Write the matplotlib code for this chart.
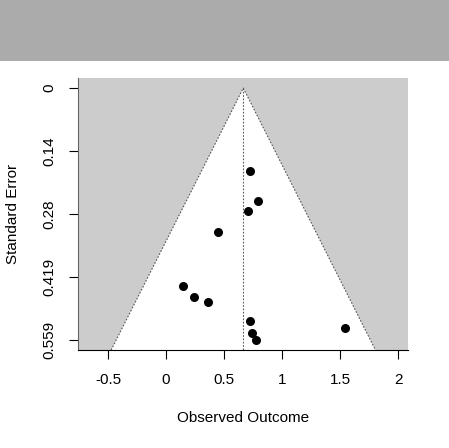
import matplotlib
matplotlib.use("Agg")
import matplotlib.pyplot as plt
import numpy as np
from matplotlib.patches import Rectangle

plt.rcParams['font.family'] = ['Liberation Sans', 'DejaVu Sans']

# observed outcomes and their standard errors
yi = [0.724, 0.793, 0.710, 0.451, 0.149, 0.244, 0.365, 0.724, 0.744, 0.779, 1.546]
sei = [0.185, 0.250, 0.273, 0.319, 0.439, 0.463, 0.475, 0.518, 0.543, 0.559, 0.532]
b_est = 0.666

x_ticks = [-0.5, 0, 0.5, 1, 1.5, 2]
x_labels = ['-0.5', '0', '0.5', '1', '1.5', '2']
y_labels = ['0', '0.14', '0.28', '0.419', '0.559']

W, H = 449, 448
fig = plt.figure(figsize=(W / 100, H / 100), dpi=100)

# grey band on top
fig.patches.append(Rectangle((0, 1 - 61 / H), 1, 61 / H, transform=fig.transFigure,
                             facecolor='#ababab', edgecolor='none', zorder=0))

ax = fig.add_axes([78 / W, (H - 350) / H, 330 / W, 272 / H])
ax.set_facecolor('#cccccc')

max_se = 0.5589
y_ticks = np.linspace(0, max_se, 5)
ext = max_se * 0.04
ax.set_ylim(max_se + ext, -ext)
ax.set_xlim(-0.759, 2.086)

# funnel region
se_bot = max_se + ext
ax.fill([b_est - 1.96 * se_bot, b_est, b_est + 1.96 * se_bot],
        [se_bot, 0, se_bot], facecolor='white', edgecolor='none', zorder=1)
ax.plot([b_est - 1.96 * se_bot, b_est, b_est + 1.96 * se_bot],
        [se_bot, 0, se_bot], color='#555555', linestyle=(0, (1.5, 1.5)), lw=0.8, zorder=2)
ax.plot([b_est, b_est], [0, se_bot], color='#555555', linestyle=(0, (1.5, 1.5)), lw=0.8, zorder=2)

ax.scatter(yi, sei, s=30, color='black', zorder=3, clip_on=False)

for s in ['top', 'right']:
    ax.spines[s].set_visible(False)
ax.spines['left'].set_color('#666666')
ax.spines['bottom'].set_color('black')

ax.set_xticks(x_ticks)
ax.set_xticklabels(x_labels, fontsize=11)
ax.set_yticks(y_ticks)
ax.set_yticklabels(y_labels, fontsize=11, rotation=90, va='center')
ax.tick_params(axis='both', direction='out', length=6.5, width=0.8, color='black')
ax.tick_params(axis='x', pad=10)
ax.tick_params(axis='y', pad=9)

fig.text(243 / W, 1 - 418 / H, 'Observed Outcome', fontsize=11, ha='center', va='center')
fig.text(13 / W, 1 - 214 / H, 'Standard Error', fontsize=11, ha='center', va='center', rotation=90)

fig.savefig('out.png', dpi=100)
